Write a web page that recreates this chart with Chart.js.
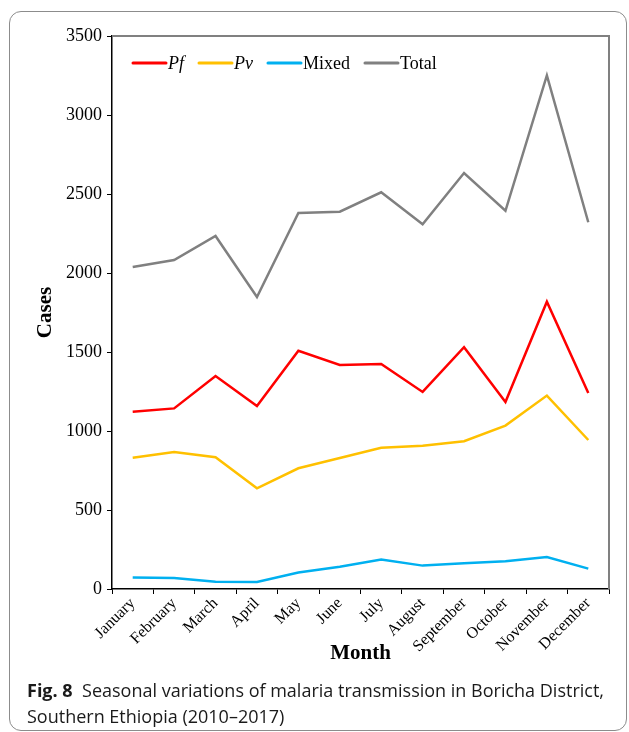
<!DOCTYPE html>
<html>
<head>
<meta charset="utf-8">
<script src="https://cdn.jsdelivr.net/npm/chart.js@4"></script>
<style>
  html, body { margin: 0; padding: 0; background: #fff; }
  #wrap { position: relative; width: 629px; height: 732px; overflow: hidden; }
  #frame { position: absolute; left: 9px; top: 11px; width: 618px; height: 720px;
           border: 1px solid #8c8c8c; border-radius: 12px; box-sizing: border-box; }
  canvas { position: absolute; left: 0; top: 0; }
  #caption { position: absolute; left: 27px; top: 677px; font-family: "Open Sans", sans-serif;
             font-size: 18px; line-height: 26px; color: #1a1a1a; white-space: nowrap; }
  #caption b { font-weight: 700; }
</style>
</head>
<body>
<div id="wrap">
  <div id="frame"></div>
  <canvas id="c" width="629" height="732"></canvas>
  <div id="caption"><b>Fig. 8</b>&nbsp; Seasonal variations of malaria transmission in Boricha District,<br>Southern Ethiopia (2010–2017)</div>
</div>
<script>
const months = ["January","February","March","April","May","June","July","August","September","October","November","December"];
const pf    = [1122, 1143, 1348, 1158, 1508, 1418, 1424, 1247, 1530, 1184, 1818, 1241];
const pv    = [831, 867, 834, 637, 764, 829, 894, 907, 935, 1034, 1224, 943];
const mixed = [72, 70, 46, 44, 105, 141, 186, 148, 163, 175, 203, 129];
const total = [2038, 2082, 2234, 1848, 2380, 2388, 2511, 2308, 2633, 2394, 3250, 2321];
const yTicks = [0, 500, 1000, 1500, 2000, 2500, 3000, 3500];

const serif = "'Liberation Serif', 'Times New Roman', serif";

const legendPlugin = {
  id: 'customLegend',
  afterDatasetsDraw(chart) {
    const ctx = chart.ctx;
    let x = chart.chartArea.left + 21;
    const y = 63;
    ctx.save();
    ctx.textBaseline = 'middle';
    chart.data.datasets.forEach(ds => {
      ctx.strokeStyle = ds.borderColor;
      ctx.lineWidth = 3;
      ctx.lineCap = 'round';
      ctx.beginPath();
      ctx.moveTo(x, y);
      ctx.lineTo(x + 33, y);
      ctx.stroke();
      x += 35;
      ctx.font = (ds.italic ? 'italic ' : '') + '18px ' + serif;
      ctx.fillStyle = '#000';
      ctx.fillText(ds.label, x, y + 1);
      x += ctx.measureText(ds.label).width + 15;
    });
    ctx.restore();
  }
};

const framePlugin = {
  id: 'frame',
  afterDraw(chart) {
    const a = chart.chartArea, ctx = chart.ctx;
    ctx.save();
    ctx.strokeStyle = '#808080';
    ctx.lineWidth = 2;
    ctx.beginPath();
    ctx.moveTo(a.left, a.top);
    ctx.lineTo(a.right, a.top);
    ctx.lineTo(a.right, a.bottom);
    ctx.stroke();
    ctx.restore();
  }
};

new Chart(document.getElementById('c'), {
  type: 'line',
  data: {
    labels: months,
    datasets: [
      { label: 'Pf', italic: true, data: pf, borderColor: '#FF0000' },
      { label: 'Pv', italic: true, data: pv, borderColor: '#FFC000' },
      { label: 'Mixed', italic: false, data: mixed, borderColor: '#00B0F0' },
      { label: 'Total', italic: false, data: total, borderColor: '#808080' }
    ]
  },
  options: {
    responsive: false,
    animation: false,
    devicePixelRatio: 1,
    layout: { padding: { left: 33, top: 36, right: 20, bottom: 66 } },
    elements: { line: { borderWidth: 2.5, tension: 0 }, point: { radius: 0 } },
    plugins: { legend: { display: false }, tooltip: { enabled: false } },
    scales: {
      x: {
        offset: true,
        grid: { offset: true, drawOnChartArea: false, tickLength: 5, color: '#000', lineWidth: 1 },
        border: { color: '#000', width: 1.5 },
        ticks: { maxRotation: 45, minRotation: 45, padding: 0, color: '#000', autoSkip: false,
                 font: { family: serif, size: 16 } },
        title: { display: true, text: 'Month', color: '#000', padding: 0,
                 font: { family: serif, size: 21, weight: 'bold' } },
        afterFit(s) { s.height = 77; }
      },
      y: {
        min: 0, max: 3500,
        afterBuildTicks(s) { s.ticks = yTicks.map(v => ({ value: v })); },
        grid: { drawOnChartArea: false, tickLength: 5, color: '#000', lineWidth: 1 },
        border: { color: '#000', width: 1.5 },
        ticks: { padding: 5, color: '#000', font: { family: serif, size: 18 },
                 callback: v => String(v) },
        title: { display: true, text: 'Cases', color: '#000', padding: 0,
                 font: { family: serif, size: 21, weight: 'bold' } },
        afterFit(s) { s.width = 79; }
      }
    }
  },
  plugins: [legendPlugin, framePlugin]
});
</script>
</body>
</html>
